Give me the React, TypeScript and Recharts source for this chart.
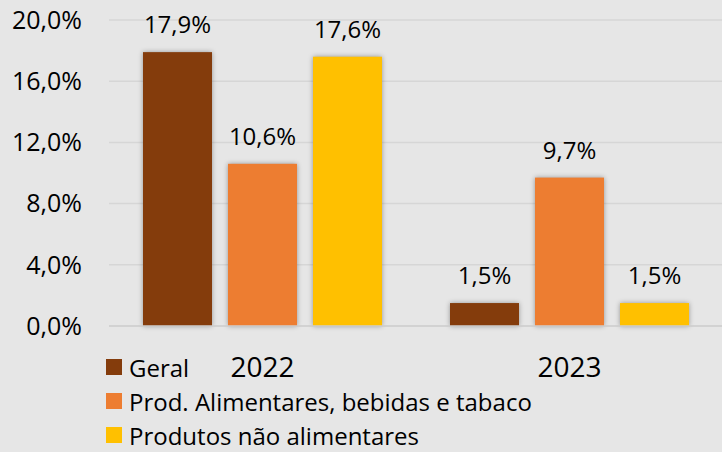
import React from 'react';
import { BarChart, Bar, XAxis, YAxis, CartesianGrid, LabelList, Legend } from 'recharts';

const categories = ['2022', '2023'];
const geral = [17.9, 1.5];
const alimentares = [10.6, 9.7];
const naoAlimentares = [17.6, 1.5];
const yTicks = [0, 4, 8, 12, 16, 20];

const seriesNames = ['Geral', 'Prod. Alimentares, bebidas e tabaco', 'Produtos não alimentares'];
const seriesColors = ['#843C0C', '#ED7D31', '#FFC000'];

const data = categories.map((c, i) => ({
  cat: c,
  geral: geral[i],
  alimentares: alimentares[i],
  naoAlimentares: naoAlimentares[i],
}));

const FONT = '"Open Sans", sans-serif';

const fmt = (v: number) => v.toFixed(1).replace('.', ',') + '%';

const ShadowBar = (props: any) => {
  const { x, y, width, height, fill } = props;
  if (!height || height <= 0) return null;
  return (
    <rect
      x={x}
      y={y}
      width={width}
      height={height}
      fill={fill}
      style={{ filter: 'drop-shadow(0px 0px 2.5px rgba(0,0,0,0.35))' }}
    />
  );
};

const LegendContent = () => (
  <div style={{ fontFamily: FONT, fontSize: 24, color: '#000' }}>
    {seriesNames.map((n, i) => (
      <div key={n} style={{ display: 'flex', alignItems: 'center', height: 34, whiteSpace: 'nowrap' }}>
        <span style={{ display: 'inline-block', width: 16, height: 16, background: seriesColors[i], marginRight: 7 }} />
        <span>{n}</span>
      </div>
    ))}
  </div>
);

export default function App() {
  const keys = ['geral', 'alimentares', 'naoAlimentares'];
  return (
    <div style={{ position: 'absolute', left: 0, top: 0, width: 722, height: 452, background: '#E6E6E6' }}>
      <BarChart
        width={722}
        height={452}
        data={data}
        margin={{ top: 20, right: -1, left: 0, bottom: 66 }}
        barSize={69}
        barGap={16}
      >
        <CartesianGrid vertical={false} stroke="#D6D6D6" strokeWidth={1.5} />
        <XAxis
          dataKey="cat"
          axisLine={{ stroke: '#CFCFCF', strokeWidth: 1.5 }}
          tickLine={false}
          tickSize={0}
          tickMargin={31}
          height={60}
          tick={{ fontFamily: FONT, fontSize: 28, fill: '#000' }}
        />
        <YAxis
          domain={[0, 20]}
          ticks={yTicks}
          width={109}
          axisLine={false}
          tickLine={false}
          tickSize={0}
          tickMargin={27}
          tickFormatter={fmt}
          tick={{ fontFamily: FONT, fontSize: 25, fill: '#000' }}
        />
        <Legend
          layout="horizontal"
          verticalAlign="middle"
          align="center"
          content={<LegendContent />}
          wrapperStyle={{ left: 106, top: 350, width: 520, height: 102 }}
        />
        {keys.map((k, i) => (
          <Bar
            key={k}
            dataKey={k}
            name={seriesNames[i]}
            fill={seriesColors[i]}
            shape={<ShadowBar />}
            isAnimationActive={false}
          >
            <LabelList
              dataKey={k}
              position="top"
              offset={19}
              formatter={(v: any) => fmt(Number(v))}
              style={{ fontFamily: FONT, fontSize: 24, fill: '#000' }}
            />
          </Bar>
        ))}
      </BarChart>
    </div>
  );
}
